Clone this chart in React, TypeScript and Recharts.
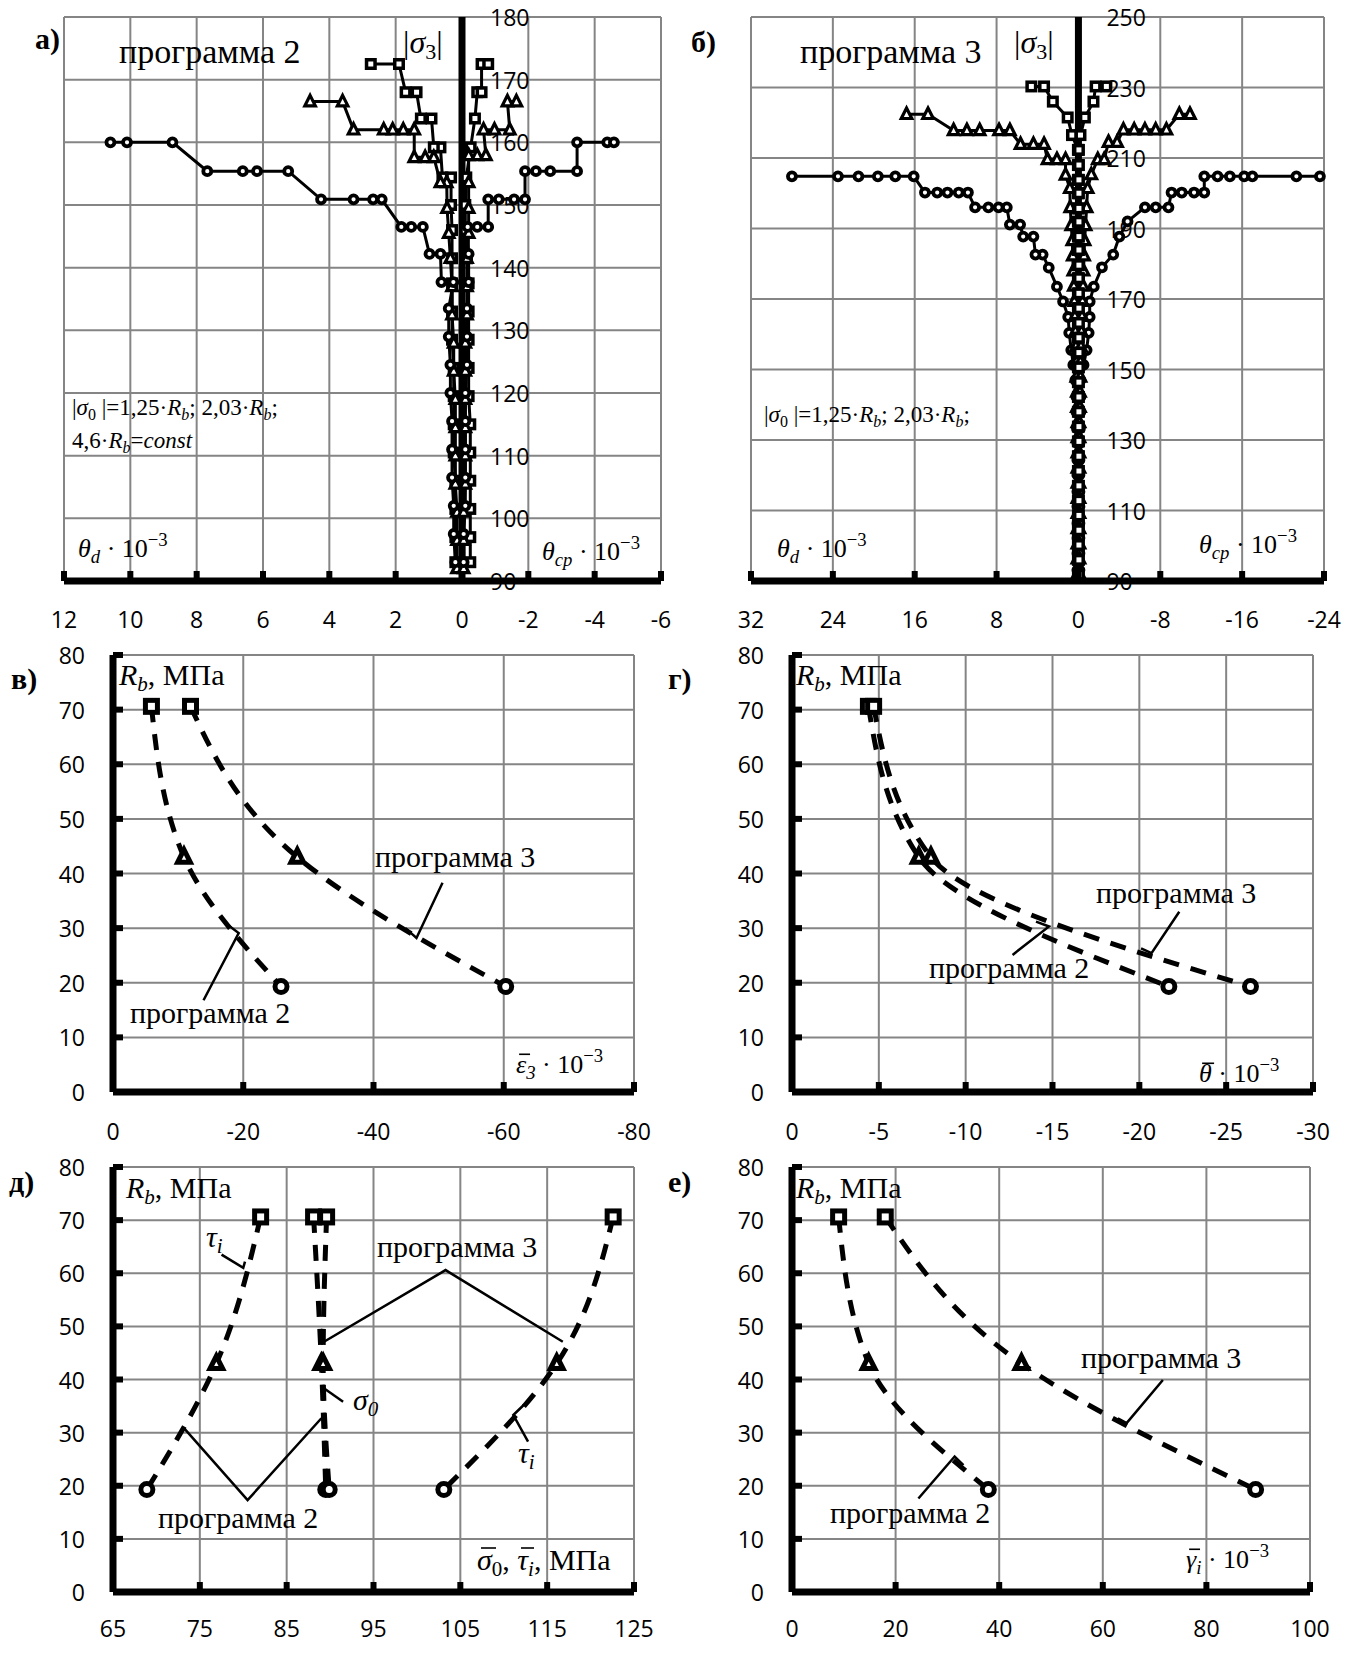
import React from 'react';
import { ComposedChart, Line, XAxis, YAxis, CartesianGrid, ReferenceLine } from 'recharts';

const TICK_FONT = '"Open Sans", sans-serif';
const SERIF = '"Liberation Serif", "DejaVu Serif", serif';
const GRID = '#858585';

const pts = (rows: number[][]) => rows.map(([x, y]) => ({ x, y }));

// ---------- а) программа 2 ----------
const aXTicks = [12, 10, 8, 6, 4, 2, 0, -2, -4, -6];
const aYTicks = [90, 100, 110, 120, 130, 140, 150, 160, 170, 180];

const aCircL = pts([
  [0.2, 93], [0.25, 97.5], [0.25, 102], [0.3, 106.5], [0.3, 111], [0.3, 115.5], [0.35, 120], [0.35, 124.5],
  [0.4, 129], [0.4, 133.5], [0.26, 137.7], [0.62, 137.7], [0.65, 142.2], [0.98, 142.2], [1.18, 146.5],
  [1.53, 146.5], [1.83, 146.5], [2.42, 150.9], [2.68, 150.9], [3.27, 150.9], [4.25, 150.9], [5.24, 155.4],
  [6.18, 155.4], [6.61, 155.4], [7.68, 155.4], [8.73, 160], [10.1, 160], [10.6, 160],
]);
const aCircR = pts([
  [-0.05, 93], [-0.05, 97.5], [-0.1, 102], [-0.1, 106.5], [-0.1, 111], [-0.1, 115.5], [-0.1, 120],
  [-0.15, 124.5], [-0.15, 129], [-0.15, 133.5], [-0.2, 137.7], [-0.2, 142.2], [-0.17, 146.5], [-0.46, 146.5],
  [-0.79, 146.5], [-0.79, 150.9], [-1.11, 150.9], [-1.57, 150.9], [-1.9, 150.9], [-1.9, 155.4], [-2.23, 155.4],
  [-2.66, 155.4], [-3.47, 155.4], [-3.47, 160], [-4.38, 160], [-4.58, 160],
]);
const aTriL = pts([
  [0.15, 92], [0.15, 96.5], [0.15, 101], [0.2, 105.5], [0.2, 110], [0.2, 114.5], [0.2, 119], [0.25, 123.5],
  [0.25, 128], [0.3, 132.5], [0.3, 137], [0.35, 141.5], [0.4, 145.5], [0.45, 149.5], [0.46, 153.6],
  [0.65, 153.6], [0.85, 157.6], [1.11, 157.6], [1.44, 157.6], [1.44, 162], [1.77, 162], [2.09, 162],
  [2.36, 162], [3.27, 162], [3.6, 166.5], [4.58, 166.5],
]);
const aTriR = pts([
  [-0.05, 92], [-0.05, 96.5], [-0.05, 101], [-0.1, 105.5], [-0.1, 110], [-0.1, 114.5], [-0.1, 119],
  [-0.1, 123.5], [-0.1, 128], [-0.15, 132.5], [-0.15, 137], [-0.15, 141.5], [-0.2, 145.5], [-0.2, 149.5],
  [-0.2, 153.6], [-0.2, 157.9], [-0.46, 157.9], [-0.72, 157.9], [-0.65, 162], [-0.98, 162], [-1.44, 162],
  [-1.37, 166.5], [-1.64, 166.5],
]);
const aSqL = pts([
  [0.2, 93], [0.2, 97], [0.2, 101.5], [0.2, 106], [0.25, 110.5], [0.25, 115], [0.25, 119.5], [0.25, 124],
  [0.3, 128.5], [0.3, 133], [0.3, 137.5], [0.3, 141.5], [0.3, 146], [0.33, 150], [0.33, 154.4], [0.59, 154.4],
  [0.65, 159.2], [0.85, 159.2], [0.92, 163.8], [1.24, 163.8], [1.37, 168], [1.7, 168], [1.9, 172.5], [2.75, 172.5],
]);
const aSqR = pts([
  [-0.25, 93], [-0.25, 97], [-0.25, 101.5], [-0.25, 106], [-0.25, 110.5], [-0.25, 115], [-0.2, 119.5],
  [-0.2, 124], [-0.2, 128.5], [-0.2, 133], [-0.2, 137.5], [-0.15, 141.5], [-0.1, 146], [-0.1, 150],
  [-0.13, 154.4], [-0.26, 159.2], [-0.39, 163.8], [-0.46, 168], [-0.59, 168], [-0.59, 172.5], [-0.79, 172.5],
]);

// ---------- б) программа 3 ----------
const bXTicks = [32, 24, 16, 8, 0, -8, -16, -24];
const bYTicks = [90, 110, 130, 150, 170, 190, 210, 230, 250];

const bCircL = pts([
  [0.1, 93.1], [0.1, 97.9], [0.1, 102.2], [0.1, 106.4], [0.1, 111.1], [0.1, 115.3], [0.1, 120.1], [0.1, 124.3],
  [0.1, 129.1], [0.15, 133.3], [0.2, 138], [0.2, 142.3], [0.3, 147], [0.5, 151.3], [0.7, 155.5], [0.9, 160.4],
  [1.0, 164.9], [1.5, 169.3], [2.1, 173.5], [2.9, 178.9], [3.5, 182.6], [4.2, 182.6], [4.4, 187.7], [5.4, 187.7],
  [5.7, 191.1], [6.7, 191.1], [7.0, 196], [7.8, 196], [8.8, 196], [10.1, 196], [10.8, 200.2], [11.7, 200.2],
  [12.8, 200.2], [13.8, 200.2], [15.0, 200.2], [16.1, 204.8], [17.9, 204.8], [19.6, 204.8], [21.5, 204.8],
  [23.5, 204.8], [28.0, 204.8],
]);
const bCircR = pts([
  [-0.1, 93.1], [-0.1, 97.9], [-0.1, 102.2], [-0.1, 106.4], [-0.1, 111.1], [-0.1, 115.3], [-0.1, 120.1],
  [-0.1, 124.3], [-0.1, 129.1], [-0.15, 133.3], [-0.2, 138], [-0.2, 142.3], [-0.2, 147], [-0.5, 151.3],
  [-0.8, 155.5], [-1.0, 160.4], [-1.1, 164.9], [-1.1, 169.3], [-1.5, 173.5], [-2.3, 179], [-3.4, 182.6],
  [-4.0, 187.7], [-4.8, 192], [-6.5, 196], [-7.55, 196], [-8.8, 196], [-9.1, 200.2], [-10.1, 200.2],
  [-11.3, 200.2], [-12.3, 200.2], [-12.3, 204.8], [-13.6, 204.8], [-14.8, 204.8], [-16.2, 204.8],
  [-17.0, 204.8], [-21.3, 204.8], [-23.6, 204.8],
]);
const bTriL = pts([
  [0.1, 92], [0.1, 96.3], [0.1, 100.6], [0.1, 104.9], [0.1, 109.2], [0.1, 113.5], [0.1, 117.8], [0.1, 122.1],
  [0.1, 126.4], [0.1, 130.7], [0.1, 135], [0.15, 139.3], [0.15, 143.6], [0.2, 147.9], [0.2, 152.2],
  [0.25, 156.5], [0.3, 160.8], [0.35, 165.1], [0.4, 169.4], [0.45, 173.7], [0.5, 178], [0.55, 182.3],
  [0.6, 186.6], [0.7, 190.9], [0.8, 196], [0.84, 201.4], [1.26, 205.2], [1.26, 209.6], [2.1, 209.6],
  [3.02, 209.6], [3.36, 213.9], [4.4, 213.9], [5.66, 213.9], [6.7, 217.8], [7.76, 217.8], [9.65, 217.8],
  [10.9, 217.8], [12.2, 217.8], [14.7, 222.4], [16.8, 222.4],
]);
const bTriR = pts([
  [-0.1, 92], [-0.1, 96.3], [-0.1, 100.6], [-0.1, 104.9], [-0.1, 109.2], [-0.1, 113.5], [-0.1, 117.8],
  [-0.1, 122.1], [-0.1, 126.4], [-0.1, 130.7], [-0.1, 135], [-0.15, 139.3], [-0.15, 143.6], [-0.2, 147.9],
  [-0.2, 152.2], [-0.25, 156.5], [-0.3, 160.8], [-0.35, 165.1], [-0.4, 169.4], [-0.45, 173.7], [-0.5, 178],
  [-0.55, 182.3], [-0.6, 186.6], [-0.7, 190.9], [-0.8, 196], [-0.9, 201.4], [-1.26, 205.3], [-1.89, 209.6],
  [-2.52, 209.6], [-2.94, 214.5], [-3.78, 214.5], [-4.4, 218], [-5.45, 218], [-6.5, 218], [-7.55, 218],
  [-8.6, 218], [-9.86, 222.4], [-10.9, 222.4],
]);
const bSqL = pts([
  [0.05, 91.8], [0.05, 96], [0.05, 100.2], [0.05, 104.4], [0.05, 108.6], [0.05, 112.8], [0.05, 117],
  [0.05, 121.2], [0.05, 125.4], [0.05, 129.6], [0.05, 133.8], [0.05, 138], [0.05, 142.2], [0.05, 146.4],
  [0.05, 150.6], [0.05, 154.8], [0.05, 159], [0.05, 163.2], [0.05, 167.4], [0.05, 171.6], [0.05, 175.9],
  [0.05, 179.6], [0.05, 183.9], [0.05, 187.7], [0.05, 191.9], [0.05, 195.7], [0.05, 200], [0.05, 203.8],
  [0.05, 208], [0.05, 212.3], [0.63, 216.5], [1.05, 221.5], [2.5, 226], [3.36, 230.3], [4.6, 230.3],
]);
const bSqR = pts([
  [-0.05, 91.8], [-0.05, 96], [-0.05, 100.2], [-0.05, 104.4], [-0.05, 108.6], [-0.05, 112.8], [-0.05, 117],
  [-0.05, 121.2], [-0.05, 125.4], [-0.05, 129.6], [-0.05, 133.8], [-0.05, 138], [-0.05, 142.2], [-0.05, 146.4],
  [-0.05, 150.6], [-0.05, 154.8], [-0.05, 159], [-0.05, 163.2], [-0.05, 167.4], [-0.05, 171.6], [-0.05, 175.9],
  [-0.05, 179.6], [-0.05, 183.9], [-0.05, 187.7], [-0.05, 191.9], [-0.05, 195.7], [-0.05, 200], [-0.05, 203.8],
  [-0.05, 208], [-0.05, 212.3], [-0.2, 216.5], [-0.63, 221.5], [-1.47, 226], [-1.68, 230.3], [-2.73, 230.3],
]);

// ---------- в) – е): Rb against strains / stresses ----------
const rbTicks = [0, 10, 20, 30, 40, 50, 60, 70, 80];

const vXTicks = [0, -20, -40, -60, -80];
const vP2 = pts([[-5.9, 70.6], [-10.9, 43], [-25.8, 19.3]]);
const vP3 = pts([[-11.9, 70.6], [-28.3, 43], [-60.3, 19.3]]);
const vPtr3 = pts([[-50.6, 38.3], [-46.6, 28.2], [-44.9, 30.0]]);
const vPtr2 = pts([[-13.9, 16.8], [-19.3, 29.1], [-17.3, 30.9]]);

const gXTicks = [0, -5, -10, -15, -20, -25, -30];
const gP2 = pts([[-4.4, 70.6], [-7.3, 43], [-21.7, 19.3]]);
const gP3 = pts([[-4.7, 70.6], [-8.0, 43], [-26.4, 19.3]]);
const gPtr3 = pts([[-22.3, 33.0], [-20.7, 25.4], [-20.1, 26.3]]);
const gPtr2 = pts([[-12.7, 25.1], [-14.8, 30.3], [-14.05, 31.2]]);

const dXTicks = [65, 75, 85, 95, 105, 115, 125];
const dTau2 = pts([[82.0, 70.6], [76.9, 43], [68.9, 19.3]]);
const dSig2 = pts([[88.1, 70.6], [89.0, 43], [89.5, 19.3]]);
const dSig3 = pts([[89.6, 70.6], [89.2, 43], [89.9, 19.3]]);
const dTau3 = pts([[122.6, 70.6], [116.1, 43], [103.1, 19.3]]);
const dPtrTauL = pts([[77.5, 63.5], [80.0, 61.0], [80.2, 62.2]]);
const dPtr3 = pts([[89.3, 47.1], [103.3, 60.6], [116.8, 47.1]]);
const dPtrSig = pts([[91.5, 35.8], [89.0, 38.7]]);
const dPtr2 = pts([[73.2, 30.8], [80.5, 17.3], [89.0, 32.7]]);
const dPtrTauR = pts([[112.8, 28.3], [111.1, 33.3], [112.3, 35.2]]);

const eXTicks = [0, 20, 40, 60, 80, 100];
const eP2 = pts([[9.0, 70.6], [14.8, 43], [37.9, 19.3]]);
const eP3 = pts([[18.0, 70.6], [44.3, 43], [89.5, 19.3]]);
const ePtr3 = pts([[71.6, 39.9], [64.6, 31.8], [62.9, 32.7]]);
const ePtr2 = pts([[24.4, 17.6], [31.4, 25.5], [33.1, 23.9]]);

// ---------- marks & ticks ----------
function drawMark(kind: string, cx: number, cy: number, size: number, sw: number, key: any) {
  const h = size / 2;
  if (cx == null || cy == null) return <g key={key} />;
  if (kind === 'circle') return <circle key={key} cx={cx} cy={cy} r={h} fill="#fff" stroke="#000" strokeWidth={sw} />;
  if (kind === 'square')
    return <rect key={key} x={cx - h} y={cy - h} width={size} height={size} fill="#fff" stroke="#000" strokeWidth={sw} />;
  return (
    <polygon
      key={key}
      points={`${cx},${cy - size * 0.62} ${cx + h * 1.05},${cy + size * 0.42} ${cx - h * 1.05},${cy + size * 0.42}`}
      fill="#fff"
      stroke="#000"
      strokeWidth={sw}
    />
  );
}
const TOP_MARK: Record<string, number[]> = { circle: [8, 3.8], square: [8.5, 3.5], triangle: [10, 3.2] };
const dotOf = (kind: string) => (p: any) => drawMark(kind, p.cx, p.cy, TOP_MARK[kind][0], TOP_MARK[kind][1], p.index);
const RB_KINDS = ['square', 'triangle', 'circle'];
const rbDot = (p: any) => drawMark(RB_KINDS[p.index], p.cx, p.cy, 12, 5, p.index);

const BottomTick = (props: any) => {
  const { x, y, payload, gap } = props;
  return (
    <g>
      <rect x={x - 3} y={y - 10} width={6} height={10} fill="#000" />
      <text x={x} y={y + (gap || 38)} textAnchor="middle" dominantBaseline="central" fontFamily={TICK_FONT} fontSize={23} fill="#000">
        {payload.value}
      </text>
    </g>
  );
};
const LeftTick = (props: any) => {
  const { x, y, payload } = props;
  return (
    <g>
      <rect x={x} y={y - 3} width={10} height={6} fill="#000" />
      <text x={x - 28} y={y} textAnchor="end" dominantBaseline="central" fontFamily={TICK_FONT} fontSize={23} fill="#000">
        {payload.value}
      </text>
    </g>
  );
};
const axisNum = (p: any) => (
  <text key={p.index} x={p.cx + 28} y={p.cy} dominantBaseline="central" fontFamily={TICK_FONT} fontSize={23} fill="#000">
    {p.payload.y}
  </text>
);

const AXIS = { stroke: '#000', strokeWidth: 7 };

// ---------- top panels (а, б) ----------
function TopPanel(props: {
  left: number; width: number; margin: any; xDomain: number[]; xTicks: number[]; yDomain: number[]; yTicks: number[];
  series: { data: any[]; kind: string }[];
}) {
  const yLab = props.yTicks.map((y) => ({ x: 0, y }));
  return (
    <div style={{ position: 'absolute', left: props.left, top: 0 }}>
      <ComposedChart width={props.width} height={650} margin={props.margin}>
        <CartesianGrid stroke={GRID} strokeWidth={2} horizontalValues={props.yTicks} verticalValues={props.xTicks} />
        <XAxis
          dataKey="x" type="number" domain={props.xDomain} ticks={props.xTicks} interval={0} reversed
          height={50} tickLine={false} tickSize={0} tickMargin={0} axisLine={AXIS} tick={(p: any) => <BottomTick {...p} />}
        />
        <YAxis dataKey="y" type="number" domain={props.yDomain} ticks={props.yTicks} hide />
        <Line data={yLab} dataKey="y" stroke="none" dot={axisNum} activeDot={false} isAnimationActive={false} />
        <ReferenceLine x={0} stroke="#000" strokeWidth={7} />
        {props.series.map((s, i) => (
          <Line
            key={i} data={s.data} dataKey="y" type="linear" stroke="#000" strokeWidth={3}
            dot={dotOf(s.kind)} activeDot={false} isAnimationActive={false}
          />
        ))}
      </ComposedChart>
    </div>
  );
}

// ---------- Rb panels (в, г, д, е) ----------
function RbPanel(props: {
  left: number; top: number; width: number; height: number; margin: any; xDomain: number[]; xTicks: number[];
  reversed?: boolean; xHeight: number; gap: number; curves: any[][]; pointers: any[][];
}) {
  return (
    <div style={{ position: 'absolute', left: props.left, top: props.top }}>
      <ComposedChart width={props.width} height={props.height} margin={props.margin}>
        <CartesianGrid stroke={GRID} strokeWidth={2} horizontalValues={rbTicks} verticalValues={props.xTicks} />
        <XAxis
          dataKey="x" type="number" domain={props.xDomain} ticks={props.xTicks} interval={0} reversed={props.reversed}
          height={props.xHeight} tickLine={false} tickSize={0} tickMargin={0} axisLine={AXIS}
          tick={(p: any) => <BottomTick {...p} gap={props.gap} />}
        />
        <YAxis
          dataKey="y" type="number" domain={[0, 80]} ticks={rbTicks} interval={0} width={60}
          tickLine={false} tickSize={0} tickMargin={0} axisLine={AXIS} tick={(p: any) => <LeftTick {...p} />}
        />
        {props.pointers.map((d, i) => (
          <Line key={'p' + i} data={d} dataKey="y" type="linear" stroke="#000" strokeWidth={2.5} dot={false} activeDot={false} isAnimationActive={false} />
        ))}
        {props.curves.map((d, i) => (
          <Line
            key={'c' + i} data={d} dataKey="y" type="monotoneY" stroke="#000" strokeWidth={5} strokeDasharray="16 12"
            dot={rbDot} activeDot={false} isAnimationActive={false}
          />
        ))}
      </ComposedChart>
    </div>
  );
}

// ---------- text ----------
const T = ({ x, y, size = 30, bold = false, children }: any) => (
  <text x={x} y={y} fontFamily={SERIF} fontSize={size} fontWeight={bold ? 'bold' : 'normal'} fill="#000">
    {children}
  </text>
);
// bar over a mean value symbol
const OverBar = ({ x, y, w }: any) => <line x1={x} x2={x + w} y1={y} y2={y} stroke="#000" strokeWidth={1.6} />;

const Rb = ({ x, y }: any) => (
  <T x={x} y={y} size={30}>
    <tspan fontStyle="italic">R</tspan>
    <tspan fontStyle="italic" fontSize={21} dy={6}>b</tspan>
    <tspan dy={-6}>, МПа</tspan>
  </T>
);
const Pow = ({ x, y, head, barW, sub, size = 26 }: any) => (
  <g>
    <T x={x} y={y} size={size}>
      <tspan fontStyle="italic">{head}</tspan>
      {sub ? <tspan fontStyle="italic" fontSize={size * 0.72} dy={6}>{sub}</tspan> : null}
      <tspan dy={sub ? -6 : 0}> · 10</tspan>
      <tspan fontSize={size * 0.72} dy={-11}>−3</tspan>
    </T>
    {barW ? <OverBar x={x + size * 0.12} y={y - size * 0.72} w={barW * size} /> : null}
  </g>
);
const Sig0Line = ({ x, y }: any) => (
  <T x={x} y={y} size={23}>
    <tspan>|</tspan>
    <tspan fontStyle="italic">σ</tspan>
    <tspan fontSize={16} dy={5}>0</tspan>
    <tspan dy={-5}> |=1,25·</tspan>
    <tspan fontStyle="italic">R</tspan>
    <tspan fontStyle="italic" fontSize={16} dy={5}>b</tspan>
    <tspan dy={-5}>; 2,03·</tspan>
    <tspan fontStyle="italic">R</tspan>
    <tspan fontStyle="italic" fontSize={16} dy={5}>b</tspan>
    <tspan dy={-5}>;</tspan>
  </T>
);
const Sig3 = ({ x, y }: any) => (
  <T x={x} y={y} size={32}>
    <tspan>|</tspan>
    <tspan fontStyle="italic">σ</tspan>
    <tspan fontSize={22} dy={6}>3</tspan>
    <tspan dy={-6}>|</tspan>
  </T>
);
const SubSym = ({ x, y, head, sub }: any) => (
  <T x={x} y={y} size={30}>
    <tspan fontStyle="italic">{head}</tspan>
    <tspan fontStyle="italic" fontSize={21} dy={6}>{sub}</tspan>
  </T>
);

export default function App() {
  return (
    <div style={{ position: 'absolute', left: 0, top: 0, width: 1353, height: 1656, background: '#fff' }}>
      <TopPanel
        left={0} width={680} margin={{ top: 17, right: 19, left: 64, bottom: 19 }}
        xDomain={[-6, 12]} xTicks={aXTicks} yDomain={[90, 180]} yTicks={aYTicks}
        series={[
          { data: aSqL, kind: 'square' }, { data: aSqR, kind: 'square' },
          { data: aTriL, kind: 'triangle' }, { data: aTriR, kind: 'triangle' },
          { data: aCircL, kind: 'circle' }, { data: aCircR, kind: 'circle' },
        ]}
      />
      <TopPanel
        left={680} width={673} margin={{ top: 17, right: 29, left: 71, bottom: 19 }}
        xDomain={[-24, 32]} xTicks={bXTicks} yDomain={[90, 250]} yTicks={bYTicks}
        series={[
          { data: bCircL, kind: 'circle' }, { data: bCircR, kind: 'circle' },
          { data: bTriL, kind: 'triangle' }, { data: bTriR, kind: 'triangle' },
          { data: bSqL, kind: 'square' }, { data: bSqR, kind: 'square' },
        ]}
      />
      <RbPanel
        left={0} top={640} width={680} height={510} margin={{ top: 15, right: 46, left: 53, bottom: 8 }}
        xDomain={[-80, 0]} xTicks={vXTicks} reversed xHeight={50} gap={39}
        curves={[vP2, vP3]} pointers={[vPtr2, vPtr3]}
      />
      <RbPanel
        left={680} top={640} width={673} height={510} margin={{ top: 15, right: 40, left: 52, bottom: 8 }}
        xDomain={[-30, 0]} xTicks={gXTicks} reversed xHeight={50} gap={39}
        curves={[gP2, gP3]} pointers={[gPtr2, gPtr3]}
      />
      <RbPanel
        left={0} top={1150} width={680} height={506} margin={{ top: 17, right: 46, left: 53, bottom: 8 }}
        xDomain={[65, 125]} xTicks={dXTicks} xHeight={56} gap={36}
        curves={[dTau2, dSig2, dSig3, dTau3]} pointers={[dPtrTauL, dPtr3, dPtrSig, dPtr2, dPtrTauR]}
      />
      <RbPanel
        left={680} top={1150} width={673} height={506} margin={{ top: 17, right: 43, left: 52, bottom: 8 }}
        xDomain={[0, 100]} xTicks={eXTicks} xHeight={56} gap={36}
        curves={[eP2, eP3]} pointers={[ePtr2, ePtr3]}
      />

      <svg width={1353} height={1656} style={{ position: 'absolute', left: 0, top: 0, pointerEvents: 'none' }}>
        {/* а */}
        <T x={35} y={49} size={30} bold>а)</T>
        <T x={119} y={63} size={34}>программа 2</T>
        <Sig3 x={403} y={53} />
        <Sig0Line x={72} y={415} />
        <T x={72} y={448} size={23}>
          <tspan>4,6·</tspan>
          <tspan fontStyle="italic">R</tspan>
          <tspan fontStyle="italic" fontSize={16} dy={5}>b</tspan>
          <tspan dy={-5}>=</tspan>
          <tspan fontStyle="italic">const</tspan>
        </T>
        <Pow x={78} y={557} head="θ" sub="d" />
        <Pow x={542} y={560} head="θ" sub="cp" />

        {/* б */}
        <T x={691} y={52} size={30} bold>б)</T>
        <T x={800} y={63} size={34}>программа 3</T>
        <Sig3 x={1014} y={53} />
        <Sig0Line x={764} y={422} />
        <Pow x={777} y={557} head="θ" sub="d" />
        <Pow x={1199} y={553} head="θ" sub="cp" />

        {/* в */}
        <T x={11} y={689} size={30} bold>в)</T>
        <Rb x={119} y={685} />
        <T x={375} y={867}>программа 3</T>
        <T x={130} y={1023}>программа 2</T>
        <Pow x={516} y={1073} head="ε" barW={0.42} sub="3" />

        {/* г */}
        <T x={668} y={689} size={30} bold>г)</T>
        <Rb x={796} y={685} />
        <T x={1096} y={903}>программа 3</T>
        <T x={929} y={978}>программа 2</T>
        <Pow x={1199} y={1082} head="θ" barW={0.46} />

        {/* д */}
        <T x={9} y={1192} size={30} bold>д)</T>
        <Rb x={126} y={1198} />
        <SubSym x={206} y={1247} head="τ" sub="i" />
        <T x={377} y={1257}>программа 3</T>
        <SubSym x={353} y={1410} head="σ" sub="0" />
        <T x={158} y={1528}>программа 2</T>
        <SubSym x={518} y={1463} head="τ" sub="i" />
        <T x={477} y={1570} size={30}>
          <tspan fontStyle="italic">σ</tspan>
          <tspan fontSize={21} dy={6}>0</tspan>
          <tspan dy={-6}>, </tspan>
          <tspan fontStyle="italic">τ</tspan>
          <tspan fontStyle="italic" fontSize={21} dy={6}>i</tspan>
          <tspan dy={-6}>, МПа</tspan>
        </T>
        <OverBar x={481} y={1548} w={15} />
        <OverBar x={521} y={1548} w={13} />

        {/* е */}
        <T x={668} y={1192} size={30} bold>е)</T>
        <Rb x={796} y={1198} />
        <T x={1081} y={1368}>программа 3</T>
        <T x={830} y={1523}>программа 2</T>
        <Pow x={1186} y={1568} head="γ" barW={0.42} sub="i" />
      </svg>
    </div>
  );
}
